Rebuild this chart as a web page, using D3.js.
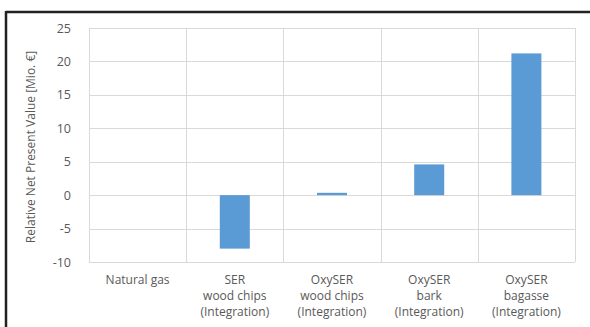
<!DOCTYPE html>
<html><head><meta charset="utf-8">
<script src="https://cdn.jsdelivr.net/npm/d3@7"></script>
<style>
body{margin:0;background:#fff;}
svg{display:block;}
text{font-family:"Open Sans",sans-serif;fill:#595959;}
</style></head>
<body>
<svg id="chart" width="590" height="327"></svg>
<script>
const categories = [
  ["Natural gas"],
  ["SER","wood chips","(Integration)"],
  ["OxySER","wood chips","(Integration)"],
  ["OxySER","bark","(Integration)"],
  ["OxySER","bagasse","(Integration)"]
];
const values = [0, -8.0, 0.35, 4.6, 21.2];
const yTicks = [-10, -5, 0, 5, 10, 15, 20, 25];
const yTitle = "Relative Net Present Value [Mio. €]";

const svg = d3.select("#chart");
const W = 590, H = 327;
const m = {left: 89, right: 575, top: 28, bottom: 262};

// frame (top and left dark lines)
svg.append("line").attr("x1",6).attr("x2",W).attr("y1",12).attr("y2",12)
  .attr("stroke","#222").attr("stroke-width",2.5);
svg.append("line").attr("x1",6).attr("x2",6).attr("y1",11).attr("y2",H)
  .attr("stroke","#222").attr("stroke-width",2.5);

const x = d3.scaleBand().domain(d3.range(categories.length))
  .range([m.left, m.right]).paddingInner(0).paddingOuter(0);
const y = d3.scaleLinear().domain([-10, 25]).range([m.bottom, m.top]);

// horizontal grid
svg.append("g").selectAll("line").data(yTicks).join("line")
  .attr("x1", m.left).attr("x2", m.right)
  .attr("y1", d => Math.round(y(d)) + 0.5).attr("y2", d => Math.round(y(d)) + 0.5)
  .attr("stroke", "#d9d9d9").attr("stroke-width", 1);
// vertical grid (category boundaries)
const bounds = d3.range(categories.length + 1).map(i => i < categories.length ? x(i) : x(i-1) + x.bandwidth());
svg.append("g").selectAll("line").data(bounds).join("line")
  .attr("x1", d => Math.round(d) + 0.5).attr("x2", d => Math.round(d) + 0.5)
  .attr("y1", m.top).attr("y2", m.bottom)
  .attr("stroke", "#d9d9d9").attr("stroke-width", 1);

// bars
const bw = 30;
svg.append("g").selectAll("rect").data(values).join("rect")
  .attr("x", (d,i) => x(i) + x.bandwidth()/2 - bw/2)
  .attr("width", bw)
  .attr("y", d => Math.min(y(d), y(0)))
  .attr("height", d => Math.abs(y(d) - y(0)))
  .attr("fill", "#5b9bd5");

// y axis labels
const yAxis = d3.axisLeft(y).tickValues(yTicks).tickSize(0).tickPadding(18)
  .tickFormat(d => String(d));
const ga = svg.append("g").attr("transform", `translate(${m.left},0)`).call(yAxis);
ga.select(".domain").remove();
ga.selectAll("text").attr("font-size", 12.5).attr("fill", "#595959")
  .style("font-family", '"Open Sans",sans-serif');

// x labels
const xl = svg.append("g").selectAll("text").data(categories).join("text")
  .attr("text-anchor", "middle")
  .attr("font-size", 12)
  .attr("x", (d,i) => x(i) + x.bandwidth()/2)
  .attr("y", 284);
xl.each(function(d){
  const t = d3.select(this);
  d.forEach((line, k) => {
    t.append("tspan").attr("x", t.attr("x")).attr("dy", k === 0 ? 0 : 16).text(line);
  });
});

// y title
svg.append("text")
  .attr("transform", `translate(35,${(m.top + m.bottom)/2 + 2}) rotate(-90)`)
  .attr("text-anchor", "middle")
  .attr("font-size", 12)
  .text(yTitle);
</script>
</body></html>
